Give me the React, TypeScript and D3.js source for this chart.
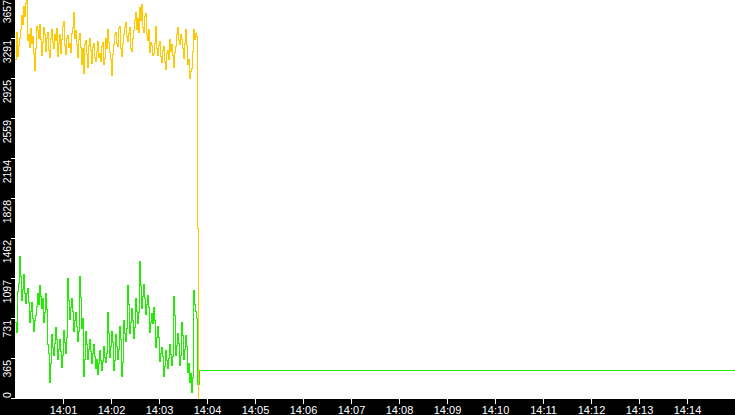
import { useRef, useEffect } from "react";
import * as d3 from "d3";

const WIDTH = 735;
const HEIGHT = 415;

const startLabel = "14:00";
const endLabel = "14:15";
const sampleSeconds = 1.25;

const xTickLabels = [
  "14:01", "14:02", "14:03", "14:04", "14:05", "14:06", "14:07",
  "14:08", "14:09", "14:10", "14:11", "14:12", "14:13", "14:14",
];
const yMax = 3657;
const yTickLabels = [
  "0", "365", "731", "1097", "1462", "1828", "2194", "2559", "2925", "3291", "3657",
];

// one reading every 1.25 s from 14:00:00
const yellowValues = [
  3100, 3350, 3130, 3230, 3300, 3380, 3510, 3420, 3590, 3500,
  3620, 3650, 3280, 3330, 3210, 3390, 3250, 3310, 3160, 3000,
  3200, 3410, 3370, 3300, 3420, 3290, 3140, 3260, 3400, 3330,
  3180, 3300, 3350, 3190, 3120, 3300, 3380, 3260, 3200, 3330,
  3280, 3390, 3130, 3250, 3330, 3160, 3290, 3410, 3450, 3230,
  3150, 3300, 3320, 3210, 3250, 3170, 3340, 3400, 3530, 3300,
  3370, 3240, 3120, 3290, 3340, 3210, 3060, 3200, 2980, 3240,
  3280, 3150, 3030, 3230, 3300, 3190, 3070, 3210, 3250, 3120,
  3090, 3180, 3270, 3120, 3160, 3090, 3220, 3260, 3060, 3110,
  3300, 3200, 3380, 3260, 3170, 3100, 2960, 3150, 3240, 3330,
  3350, 3250, 3220, 3390, 3410, 3200, 3130, 3250, 3330, 3400,
  3440, 3310, 3270, 3340, 3400, 3200, 3180, 3300, 3370, 3460,
  3530, 3380, 3480, 3350, 3580, 3460, 3610, 3400, 3350, 3500,
  3520, 3330, 3280, 3380, 3170, 3260, 3230, 3140, 3160, 3250,
  3410, 3200, 3140, 3230, 3270, 3130, 3080, 3190, 3220, 3090,
  3010, 3160, 3190, 3100, 3290, 3180, 3240, 3140, 3030, 3170,
  3220, 3330, 3400, 3280, 3240, 3330, 3290, 3200, 3110, 3250,
  3380, 3230, 3060, 3100, 2930, 2990, 3020, 3180, 3380, 3290,
  3340, 3310,
];
const greenValues = [
  700, 610, 980, 1060, 1300, 1120, 900, 1000, 1140, 960,
  870, 960, 1010, 880, 700, 800, 880, 740, 620, 720,
  760, 850, 960, 860, 1040, 940, 830, 920, 700, 790,
  960, 820, 500, 420, 150, 320, 590, 470, 400, 510,
  650, 540, 360, 450, 540, 430, 290, 400, 630, 520,
  420, 560, 1100, 900, 730, 840, 920, 800, 620, 720,
  790, 660, 530, 620, 1120, 930, 640, 740, 210, 360,
  620, 500, 360, 450, 540, 430, 320, 420, 500, 390,
  280, 360, 220, 320, 440, 350, 260, 340, 480, 380,
  330, 420, 790, 600, 380, 480, 620, 520, 260, 350,
  590, 480, 360, 450, 660, 540, 210, 330, 720, 600,
  530, 640, 1040, 860, 600, 700, 830, 720, 550, 650,
  920, 800, 690, 790, 1260, 1040, 830, 940, 1050, 920,
  770, 860, 950, 840, 610, 700, 780, 690, 840, 720,
  470, 560, 660, 560, 340, 420, 470, 390, 210, 300,
  440, 350, 280, 370, 500, 410, 310, 390, 940, 760,
  400, 490, 600, 510, 310, 400, 700, 580, 360, 450,
  580, 480, 240, 320, 150, 230, 60, 200, 990, 860,
  800, 740,
];
// irregular readings after the run stops: [seconds after 14:00, value]
const yellowTail: [number, number][] = [[227.5, 1560], [228.75, 0]];
const greenTail: [number, number][] = [[227.5, 130], [230, 256], [900, 256]];

export default function App() {
  const svgRef = useRef<SVGSVGElement>(null);

  useEffect(() => {
    if (!svgRef.current) return;
    const svg = d3.select(svgRef.current);
    svg.selectAll("*").remove();

    const parse = d3.timeParse("%H:%M");
    const t0 = parse(startLabel)!;
    const t1 = parse(endLabel)!;
    const at = (s: number) => new Date(t0.getTime() + s * 1000);

    const plotLeft = 15;
    const plotBottom = 399;

    const x = d3.scaleTime().domain([t0, t1]).range([15.3, 735.3]);
    const y = d3.scaleLinear().domain([0, yMax]).range([plotBottom, -1]);

    const toPoints = (vals: number[], tail: [number, number][]) =>
      vals.map((v, i) => [i * sampleSeconds, v] as [number, number]).concat(tail);

    const line = d3
      .line<[number, number]>()
      .x((d) => x(at(d[0])))
      .y((d) => y(d[1]))
      .curve(d3.curveStepAfter);

    svg.append("rect").attr("width", WIDTH).attr("height", HEIGHT).attr("fill", "#fff");

    svg.append("path")
      .datum(toPoints(greenValues, greenTail))
      .attr("d", line)
      .attr("fill", "none")
      .attr("stroke", "#20ee00")
      .attr("stroke-width", 1)
      .attr("shape-rendering", "crispEdges");

    svg.append("path")
      .datum(toPoints(yellowValues, yellowTail))
      .attr("d", line)
      .attr("fill", "none")
      .attr("stroke", "#ffc800")
      .attr("stroke-width", 1)
      .attr("shape-rendering", "crispEdges");

    // black axis strips
    svg.append("rect").attr("x", 0).attr("y", 0).attr("width", plotLeft).attr("height", HEIGHT).attr("fill", "#000");
    svg.append("rect").attr("x", 0).attr("y", plotBottom).attr("width", WIDTH).attr("height", HEIGHT - plotBottom).attr("fill", "#000");

    const font = "'Liberation Sans', Arial, sans-serif";

    // y axis
    const yg = svg.append("g");
    yTickLabels.forEach((label, i) => {
      const ty = Math.round(y((i * yMax) / 10)) - 0.5;
      yg.append("line")
        .attr("x1", 11).attr("x2", plotLeft)
        .attr("y1", ty).attr("y2", ty)
        .attr("stroke", "#fff")
        .attr("shape-rendering", "crispEdges");
      const first = i === 0;
      yg.append("text")
        .attr("transform", `translate(10.5,${first ? plotBottom - 1 : ty + 1.5}) rotate(-90)`)
        .attr("text-anchor", first ? "start" : "end")
        .attr("fill", "#fff")
        .attr("font-family", font)
        .attr("font-size", "10.5px")
        .text(label);
    });

    // x axis
    const xg = svg.append("g");
    xTickLabels.forEach((label) => {
      const tx = Math.round(x(parse(label)!)) + 0.5;
      xg.append("line")
        .attr("x1", tx).attr("x2", tx)
        .attr("y1", plotBottom).attr("y2", plotBottom + 5)
        .attr("stroke", "#fff")
        .attr("shape-rendering", "crispEdges");
      xg.append("text")
        .attr("x", tx)
        .attr("y", 414)
        .attr("text-anchor", "middle")
        .attr("fill", "#fff")
        .attr("font-family", font)
        .attr("font-size", "11px")
        .text(label);
    });
  }, []);

  return (
    <svg
      ref={svgRef}
      width={WIDTH}
      height={HEIGHT}
      style={{ position: "absolute", left: 0, top: 0, display: "block" }}
    />
  );
}
